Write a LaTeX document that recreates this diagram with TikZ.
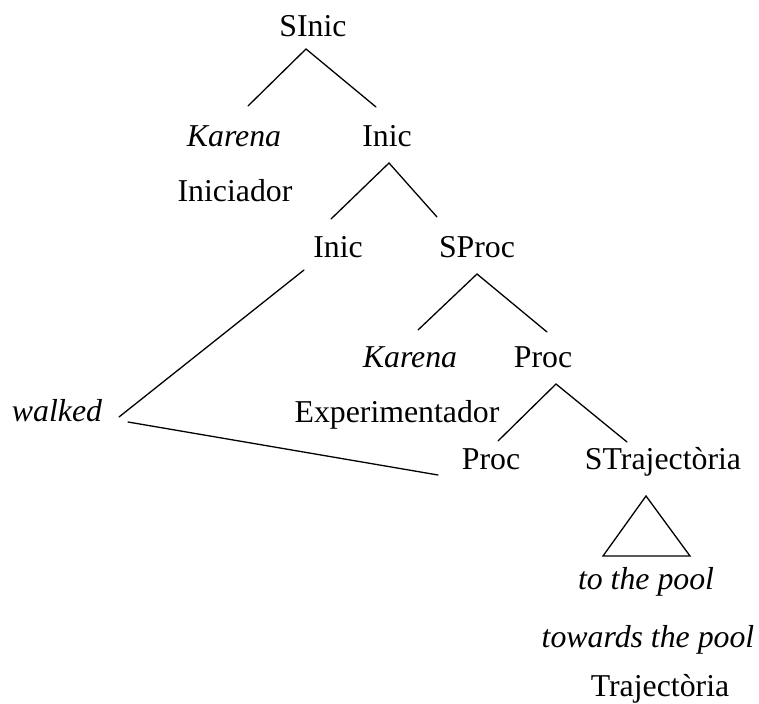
\documentclass[tikz,border=0pt]{standalone}
\usepackage{fontspec}
\setmainfont{Liberation Serif}
\begin{document}
\begin{tikzpicture}[x=0.5pt,y=-0.5pt,
  lab/.style={anchor=base, inner sep=0pt, font=\fontsize{15.9}{19}\selectfont},
  word/.style={lab, font=\fontsize{15.9}{19}\selectfont\itshape},
  branch/.style={line width=0.65pt, line cap=round, line join=miter}]
\useasboundingbox (0,0) rectangle (759,704);

% labels of the tree
\node[lab]  (sinic)  at (313,37)  {SInic};
\node[word] (kar1)   at (234,147) {Karena};
\node[lab]  (inic1)  at (387,147) {Inic};
\node[lab]  (inicr)  at (235,202) {Iniciador};
\node[lab]  (inic2)  at (338,258) {Inic};
\node[lab]  (sproc)  at (477,258) {SProc};
\node[word] (kar2)   at (410,368) {Karena};
\node[lab]  (proc1)  at (543,368) {Proc};
\node[lab]  (exper)  at (397,423) {Experimentador};
\node[word] (walked) at (57,422)  {walked};
\node[lab]  (proc2)  at (491,470) {Proc};
\node[lab]  (straj)  at (663,470) {STrajectòria};
\node[word] (pool1)  at (646,589) {to the pool};
\node[word] (pool2)  at (648,647) {towards the pool};
\node[lab]  (trajr)  at (660,696) {Trajectòria};

% branch end points
\coordinate (sinic-t) at (306,49);
\coordinate (kar1-t)  at (248,106);
\coordinate (inic1-t) at (376,107);
\coordinate (inic1-b) at (389,163);
\coordinate (inic2-t) at (331,219);
\coordinate (sproc-t) at (437,217);
\coordinate (inic2-b) at (304,270);
\coordinate (walk-a)  at (119,417);
\coordinate (walk-b)  at (128,422);
\coordinate (proc2-l) at (438,475);
\coordinate (sproc-b) at (477,274);
\coordinate (kar2-t)  at (418,330);
\coordinate (proc1-t) at (547,332);
\coordinate (proc1-b) at (556,384);
\coordinate (proc2-t) at (498,441);
\coordinate (straj-t) at (627,442);
\coordinate (tri-a)   at (646,496);
\coordinate (tri-l)   at (603,556);
\coordinate (tri-r)   at (690,556);

% branches
\draw[branch] (kar1-t) -- (sinic-t) -- (inic1-t);
\draw[branch] (inic2-t) -- (inic1-b) -- (sproc-t);
\draw[branch] (inic2-b) -- (walk-a);
\draw[branch] (walk-b) -- (proc2-l);
\draw[branch] (kar2-t) -- (sproc-b) -- (proc1-t);
\draw[branch] (proc2-t) -- (proc1-b) -- (straj-t);
\draw[branch] (tri-a) -- (tri-l) -- (tri-r) -- cycle;
\end{tikzpicture}
\end{document}
